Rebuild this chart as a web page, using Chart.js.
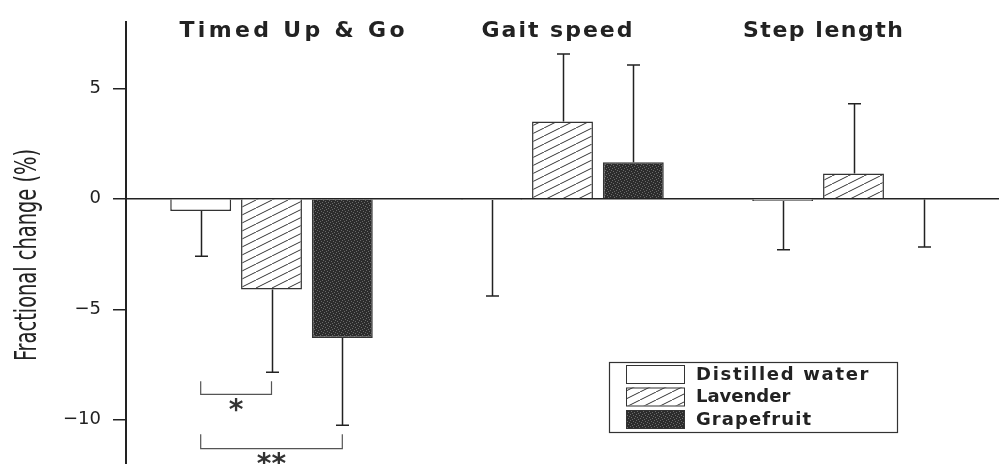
<!DOCTYPE html>
<html>
<head>
<meta charset="utf-8">
<script src="https://cdn.jsdelivr.net/npm/chart.js@4.4.1/dist/chart.umd.min.js"></script>
<style>
  html, body { margin: 0; padding: 0; background: #fff; }
  #wrap { width: 1001px; height: 464px; }
</style>
</head>
<body>
<div id="wrap"><canvas id="chart"></canvas></div>
<script>
// ── DATA ──
const groups        = ['Timed Up & Go', 'Gait speed', 'Step length'];
const seriesNames   = ['Distilled water', 'Lavender', 'Grapefruit'];
const distilledVals = [-0.55, -0.05, -0.1];
const lavenderVals  = [-4.1, 3.5, 1.15];
const grapefruitVals= [-6.3, 1.65, -0.03];
const distilledErr  = [2.05, 4.35, 2.2];
const lavenderErr   = [3.75, 3.05, 3.15];
const grapefruitErr = [3.95, 4.4, 2.15];
const yTicks        = [-10, -5, 0, 5];

// significance brackets (all in group 0)
const sigFrom  = [0, 0];          // series index, left end
const sigTo    = [1, 2];          // series index, right end
const sigLine  = [-8.85, -11.3];  // horizontal line value
const sigTip   = [-8.25, -10.65]; // tip of the vertical ends
const sigMark  = ['*', '**'];
const sigMarkY = [-9.3, -11.75];

const INK = '#222';

// ── PATTERNS ──
function hatchPattern() {
  const c = document.createElement('canvas');
  c.width = 16; c.height = 8;
  const g = c.getContext('2d');
  g.fillStyle = '#fff';
  g.fillRect(0, 0, 16, 8);
  g.strokeStyle = '#333';
  g.lineWidth = 1;
  for (let k = -1; k <= 1; k++) {
    g.beginPath();
    g.moveTo(k * 16, 8);
    g.lineTo(k * 16 + 16, 0);
    g.stroke();
  }
  return g.createPattern(c, 'repeat');
}

function stipplePattern() {
  const c = document.createElement('canvas');
  c.width = 6; c.height = 6;
  const g = c.getContext('2d');
  g.fillStyle = '#2c2c2c';
  g.fillRect(0, 0, 6, 6);
  g.fillStyle = '#6a6a6a';
  [[0, 0], [3, 1], [1, 3], [4, 4], [5, 2], [2, 5]].forEach(([x, y]) => g.fillRect(x, y, 1, 1));
  return g.createPattern(c, 'repeat');
}

const fills = ['#fff', hatchPattern(), stipplePattern()];
const errs  = [distilledErr, lavenderErr, grapefruitErr];

// ── PLUGINS ──
const errorBars = {
  id: 'errorBars',
  afterDatasetsDraw(chart) {
    const { ctx } = chart;
    const ys = chart.scales.y;
    ctx.save();
    ctx.strokeStyle = INK;
    ctx.lineWidth = 1.5;
    chart.data.datasets.forEach((ds, i) => {
      chart.getDatasetMeta(i).data.forEach((bar, j) => {
        const v = ds.data[j];
        const end = v < 0 ? v - errs[i][j] : v + errs[i][j];
        const y1 = ys.getPixelForValue(end);
        const x = Math.round(bar.x) + 0.5;
        ctx.beginPath();
        ctx.moveTo(x, bar.y);
        ctx.lineTo(x, y1);
        ctx.moveTo(x - 6.5, y1);
        ctx.lineTo(x + 6.5, y1);
        ctx.stroke();
      });
    });
    ctx.restore();
  }
};

const sigBrackets = {
  id: 'sigBrackets',
  afterDatasetsDraw(chart) {
    const { ctx } = chart;
    const ys = chart.scales.y;
    ctx.save();
    ctx.strokeStyle = '#555';
    ctx.lineWidth = 1.2;
    ctx.fillStyle = '#333';
    ctx.textAlign = 'center';
    ctx.textBaseline = 'middle';
    ctx.font = 'bold 28px "DejaVu Sans"';
    sigFrom.forEach((a, k) => {
      const xa = chart.getDatasetMeta(a).data[0].x;
      const xb = chart.getDatasetMeta(sigTo[k]).data[0].x;
      const yl = ys.getPixelForValue(sigLine[k]);
      const yt = ys.getPixelForValue(sigTip[k]);
      ctx.beginPath();
      ctx.moveTo(xa, yt);
      ctx.lineTo(xa, yl);
      ctx.lineTo(xb, yl);
      ctx.lineTo(xb, yt);
      ctx.stroke();
      ctx.fillText(sigMark[k], (xa + xb) / 2, ys.getPixelForValue(sigMarkY[k]) + 7);
    });
    ctx.restore();
  }
};

// group titles, drawn as text above each group
const titleX = [292, 557, 823];
const titleW = [225, 151, 160];
function spacedText(ctx, text, x, y, width) {
  ctx.letterSpacing = '0px';
  const w = ctx.measureText(text).width;
  const sp = Math.max(0, (width - w) / (text.length - 1));
  ctx.letterSpacing = sp + 'px';
  ctx.fillText(text, x, y);
  ctx.letterSpacing = '0px';
}
const groupTitles = {
  id: 'groupTitles',
  afterDraw(chart) {
    const { ctx } = chart;
    ctx.save();
    ctx.fillStyle = INK;
    ctx.textAlign = 'left';
    ctx.textBaseline = 'alphabetic';
    ctx.font = 'bold 22px "DejaVu Sans"';
    groups.forEach((g, i) => spacedText(ctx, g, titleX[i] - titleW[i] / 2, 37, titleW[i]));

    // y axis title, narrow and tall
    ctx.font = '31px "Liberation Sans Narrow", "DejaVu Sans Condensed", sans-serif';
    const label = 'Fractional change (%)';
    const w = ctx.measureText(label).width;
    ctx.translate(36, 255);
    ctx.rotate(-Math.PI / 2);
    ctx.scale(212 / w, 1);
    ctx.textAlign = 'center';
    ctx.fillText(label, 0, 0);
    ctx.restore();
  }
};

const boxLegend = {
  id: 'boxLegend',
  afterDraw(chart) {
    const { ctx } = chart;
    ctx.save();
    ctx.strokeStyle = '#333';
    ctx.lineWidth = 1.2;
    ctx.fillStyle = '#fff';
    ctx.fillRect(609, 362, 288, 70);
    ctx.strokeRect(609.5, 362.5, 288, 70);
    ctx.font = 'bold 18px "DejaVu Sans"';
    ctx.textBaseline = 'middle';
    chart.data.datasets.forEach((ds, i) => {
      const top = 365 + i * 22.5;
      ctx.fillStyle = ds.backgroundColor;
      ctx.fillRect(626, top, 58, 18);
      ctx.strokeStyle = '#333';
      ctx.lineWidth = 1;
      ctx.strokeRect(626.5, top + 0.5, 58, 18);
      ctx.fillStyle = INK;
      spacedText(ctx, ds.label, 696, top + 10, ds.label.length * 11.5);
    });
    ctx.restore();
  }
};

// ── CHART ──
new Chart(document.getElementById('chart'), {
  type: 'bar',
  data: {
    labels: groups,
    datasets: [distilledVals, lavenderVals, grapefruitVals].map((vals, i) => ({
      label: seriesNames[i],
      data: vals,
      backgroundColor: fills[i],
      borderColor: '#333',
      borderWidth: 1.5,
      categoryPercentage: 0.73,
      barPercentage: 0.86
    }))
  },
  options: {
    responsive: true,
    maintainAspectRatio: false,
    animation: false,
    layout: { padding: { top: 22, right: 2, bottom: 0, left: 0 } },
    plugins: {
      legend: { display: false },
      tooltip: { enabled: false }
    },
    scales: {
      x: { display: false },
      y: {
        min: -12,
        max: 8,
        afterBuildTicks: (s) => { s.ticks = yTicks.map(v => ({ value: v })); },
        afterFit: (s) => { s.width = 126; s.paddingTop = 0; s.paddingBottom = 0; },
        border: { color: INK, width: 2 },
        grid: {
          color: (c) => c.tick && c.tick.value === 0 ? INK : 'transparent',
          lineWidth: 1.5,
          tickColor: INK,
          tickLength: 13
        },
        ticks: {
          color: INK,
          padding: 12,
          font: { family: '"DejaVu Sans"', size: 18 },
          callback: (v) => v < 0 ? '\u2212' + Math.abs(v) : String(v)
        }
      }
    }
  },
  plugins: [errorBars, sigBrackets, groupTitles, boxLegend]
});
</script>
</body>
</html>
